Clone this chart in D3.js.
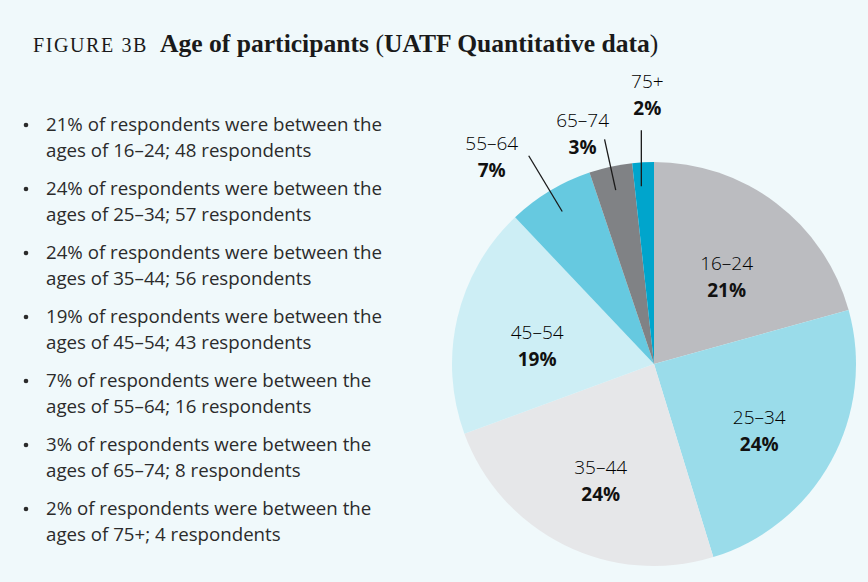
<!DOCTYPE html>
<html>
<head>
<meta charset="utf-8">
<script src="https://cdn.jsdelivr.net/npm/d3@7"></script>
<style>
  body { margin: 0; background: #f0f9fb; }
  svg { display: block; }
</style>
</head>
<body>
<div id="chart"></div>
<script>
// age groups and counts
var ageGroups = ["16–24", "25–34", "35–44", "45–54", "55–64", "65–74", "75+"];
var counts = [48, 57, 56, 43, 16, 8, 4];
var percents = [21, 24, 24, 19, 7, 3, 2];
var sliceColors = ["#bbbcc0", "#9adcea", "#e6e7e9", "#cdeef5", "#66c9e0", "#808285", "#00a5cc"];
var outsideLabel = [false, false, false, false, true, true, true];

var w = 868,
    h = 582;

var svg = d3.select("#chart")
    .append("svg")
    .attr("width", w)
    .attr("height", h);

svg.append("rect")
    .attr("width", w)
    .attr("height", h)
    .attr("fill", "#f0f9fb");

//title
var title = svg.append("text")
    .attr("x", 33)
    .attr("y", 52)
    .style("font-family", "'Liberation Serif', serif")
    .style("fill", "#1a1a1a");
title.append("tspan")
    .text("FIGURE 3B")
    .style("font-size", "20px")
    .style("letter-spacing", "1.6px");
title.append("tspan")
    .attr("dx", 12)
    .text("Age of participants ")
    .style("font-size", "25.6px")
    .style("font-weight", "bold");
title.append("tspan")
    .text("(")
    .style("font-size", "25.6px");
title.append("tspan")
    .text("UATF Quantitative data")
    .style("font-size", "25.6px")
    .style("font-weight", "bold");
title.append("tspan")
    .text(")")
    .style("font-size", "25.6px");

//bullet list
var list = svg.append("g")
    .style("font-family", "'Open Sans', sans-serif")
    .style("font-size", "18.7px")
    .style("fill", "#2b2b2b");

ageGroups.forEach(function (g, i) {
    var y = 131 + i * 64;
    list.append("circle")
        .attr("cx", 26)
        .attr("cy", y - 6)
        .attr("r", 2.3)
        .attr("fill", "#2b2b2b");
    list.append("text")
        .attr("x", 46)
        .attr("y", y)
        .text(percents[i] + "% of respondents were between the");
    list.append("text")
        .attr("x", 46)
        .attr("y", y + 26)
        .text("ages of " + g + "; " + counts[i] + " respondents");
});

//pie
var cx = 654,
    cy = 364,
    r = 202;

var pie = d3.pie()
    .sort(null)
    .value(function (d) { return d; });

var arcs = pie(counts);

var arc = d3.arc()
    .innerRadius(0)
    .outerRadius(r);

var labelArc = d3.arc()
    .innerRadius(120)
    .outerRadius(120);

var pieGroup = svg.append("g")
    .attr("transform", "translate(" + cx + "," + cy + ")");

pieGroup.selectAll("path")
    .data(arcs)
    .enter().append("path")
    .attr("d", arc)
    .attr("fill", function (d, i) { return sliceColors[i]; });

function polar(a, rad) {
    return [Math.sin(a) * rad, -Math.cos(a) * rad];
}

//callout offsets for the small slices (label baseline relative to line end)
var calloutShift = { 4: [-37, -6], 5: [-22, -12], 6: [6, -42] };
var calloutLen = { 4: 243, 5: 230, 6: 234 };

arcs.forEach(function (d, i) {
    var mid = (d.startAngle + d.endAngle) / 2;
    var pos;
    if (outsideLabel[i]) {
        var p1 = polar(mid, 178),
            p2 = polar(mid, calloutLen[i]);
        if (i === 6) { p1[0] = p2[0]; }
        pieGroup.append("line")
            .attr("x1", p1[0]).attr("y1", p1[1])
            .attr("x2", p2[0]).attr("y2", p2[1])
            .attr("stroke", "#1a1a1a")
            .attr("stroke-width", 1.3);
        pos = [p2[0] + calloutShift[i][0], p2[1] + calloutShift[i][1]];
    } else {
        pos = labelArc.centroid(d);
        pos = [pos[0], pos[1] + 2];
    }
    var t = pieGroup.append("text")
        .attr("text-anchor", "middle")
        .style("font-family", "'Open Sans', sans-serif")
        .style("font-size", "19px")
        .style("fill", "#000");
    t.append("tspan")
        .attr("x", pos[0])
        .attr("y", pos[1])
        .style("font-weight", "300")
        .text(ageGroups[i]);
    t.append("tspan")
        .attr("x", pos[0])
        .attr("y", pos[1] + 27)
        .style("font-weight", "bold")
        .style("fill", "#111")
        .text(percents[i] + "%");
});
</script>
</body>
</html>
